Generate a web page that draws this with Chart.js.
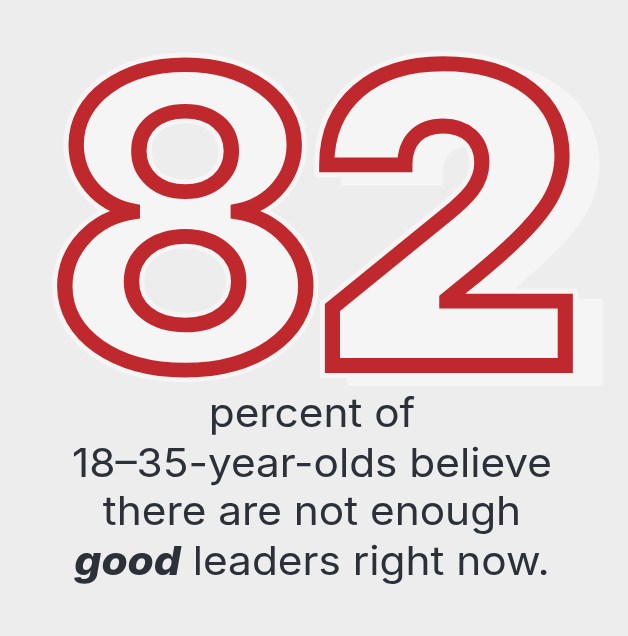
<!DOCTYPE html>
<html>
<head>
<meta charset="utf-8">
<script src="https://cdn.jsdelivr.net/npm/chart.js@4.4.1/dist/chart.umd.min.js"></script>
<style>
  html, body { margin: 0; padding: 0; background: #ededed; }
  #wrap { width: 628px; height: 636px; position: relative; }
</style>
</head>
<body>
<div id="wrap"><canvas id="statChart"></canvas></div>
<script>
// the one number on the card, plus its caption
var statLabels = ["18-35 year olds"];
var statValues = [82];
var captionLines = ["percent of", "18–35-year-olds believe", "there are not enough", "good leaders right now."];
var captionBold = ["", "", "", "good"];

var bgColor = "#ededed";
var paleColor = "#f5f5f5";
var redColor = "#bf292e";
var inkColor = "#2c3139";

// where each digit sits (centre of the red outline)
var digitBoxes = [
    { x0: 58.5, y0: 59.5, x1: 307.5, y1: 372.5, font: "700 400px Inter" },
    { x0: 325.5, y0: 58.5, x1: 566.5, y1: 365.5, font: "900 400px Inter" }
];
var outlineWidth = 15;

function fitDigit(ctx, ch, box) {
    ctx.font = box.font;
    var m = ctx.measureText(ch);
    var w = m.actualBoundingBoxLeft + m.actualBoundingBoxRight;
    var h = m.actualBoundingBoxAscent + m.actualBoundingBoxDescent;
    var sx = (box.x1 - box.x0) / w;
    var sy = (box.y1 - box.y0) / h;
    return {
        tx: box.x0 + m.actualBoundingBoxLeft * sx,
        ty: box.y0 + m.actualBoundingBoxAscent * sy,
        sx: sx, sy: sy, font: box.font
    };
}

function drawDigit(ctx, ch, fit, dx, dy, fill, stroke, lw) {
    ctx.save();
    ctx.translate(fit.tx + dx, fit.ty + dy);
    ctx.scale(fit.sx, fit.sy);
    ctx.font = fit.font;
    ctx.textBaseline = "alphabetic";
    ctx.textAlign = "left";
    ctx.lineJoin = "miter";
    ctx.miterLimit = 3;
    if (fill) {
        ctx.fillStyle = fill;
        ctx.fillText(ch, 0, 0);
    }
    if (stroke) {
        ctx.strokeStyle = stroke;
        ctx.lineWidth = lw / ((fit.sx + fit.sy) / 2);
        ctx.strokeText(ch, 0, 0);
    }
    ctx.restore();
}

var bigNumberPlugin = {
    id: "bigNumber",
    beforeDraw: function (chart) {
        var ctx = chart.ctx;
        ctx.save();
        ctx.fillStyle = bgColor;
        ctx.fillRect(0, 0, chart.width, chart.height);
        ctx.restore();
    },
    afterDraw: function (chart) {
        var ctx = chart.ctx;
        var txt = String(chart.data.datasets[0].data[0]);
        var fits = [];
        for (var i = 0; i < txt.length; i++) {
            fits.push(fitDigit(ctx, txt[i], digitBoxes[i]));
        }
        // pale drop shadow behind the last digit, thin halo round both
        var last = txt.length - 1;
        drawDigit(ctx, txt[last], fits[last], 26, 9, paleColor, paleColor, outlineWidth + 8);
        for (var i = 0; i < txt.length; i++) {
            drawDigit(ctx, txt[i], fits[i], 0, 0, null, paleColor, outlineWidth + 10);
        }
        for (var i = 0; i < txt.length; i++) {
            drawDigit(ctx, txt[i], fits[i], 0, 0, paleColor, redColor, outlineWidth);
        }
    }
};

var captionPlugin = {
    id: "caption",
    afterDraw: function (chart) {
        var ctx = chart.ctx;
        var cx = 312;
        var baselines = [427, 477, 525, 575];
        var regular = "400 40px Inter";
        var bold = "italic 800 40px Inter";
        ctx.save();
        ctx.font = regular;
        var sx = 480 / ctx.measureText(captionLines[1]).width;
        ctx.fillStyle = inkColor;
        ctx.textBaseline = "alphabetic";
        ctx.textAlign = "left";
        captionLines.forEach(function (line, i) {
            var b = captionBold[i];
            var rest = b ? line.slice(b.length) : line;
            ctx.font = bold;
            var bw = b ? ctx.measureText(b).width : 0;
            ctx.font = regular;
            var rw = ctx.measureText(rest).width;
            var total = bw + rw;
            ctx.save();
            ctx.translate(cx, baselines[i]);
            ctx.scale(sx, 1);
            var x = -total / 2;
            if (b) {
                ctx.font = bold;
                ctx.fillText(b, x, 0);
                x += bw;
            }
            ctx.font = regular;
            ctx.fillText(rest, x, 0);
            ctx.restore();
        });
        ctx.restore();
    }
};

new Chart(document.getElementById("statChart"), {
    type: "bar",
    data: {
        labels: statLabels,
        datasets: [{
            label: "Percent",
            data: statValues,
            backgroundColor: "rgba(0,0,0,0)",
            borderWidth: 0
        }]
    },
    options: {
        responsive: true,
        maintainAspectRatio: false,
        animation: false,
        events: [],
        layout: { padding: 0 },
        scales: {
            x: { display: false },
            y: { display: false, min: 0, max: 100 }
        },
        plugins: {
            legend: { display: false },
            tooltip: { enabled: false },
            title: { display: false }
        }
    },
    plugins: [bigNumberPlugin, captionPlugin]
});
</script>
</body>
</html>
